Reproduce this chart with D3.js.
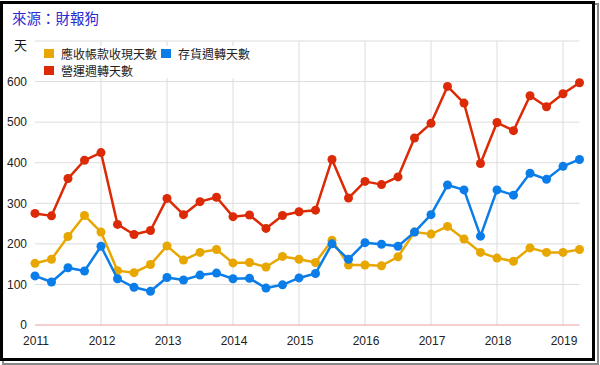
<!doctype html>
<html lang='zh-Hant'>
<head>
<meta charset='UTF-8'>
<title>週轉天數</title>
<style>
  body { margin: 0; background: #fff; }
  svg { display: block; font-family: 'Liberation Sans', Arial, sans-serif; }
  .grid line { stroke: #dcdcdc; stroke-width: 1px; }
  .tick-label { font-size: 12px; fill: #222; }
  .legend text { font-size: 12px; fill: #222; font-family: 'Noto Sans CJK TC', sans-serif; }
</style>
</head>
<body>
<script src='https://cdn.jsdelivr.net/npm/d3@7'></script>
<script>
  // 季度（2011Q1 ~ 2019Q2）
  const quarters = [
    '2011Q1','2011Q2','2011Q3','2011Q4','2012Q1','2012Q2','2012Q3','2012Q4',
    '2013Q1','2013Q2','2013Q3','2013Q4','2014Q1','2014Q2','2014Q3','2014Q4',
    '2015Q1','2015Q2','2015Q3','2015Q4','2016Q1','2016Q2','2016Q3','2016Q4',
    '2017Q1','2017Q2','2017Q3','2017Q4','2018Q1','2018Q2','2018Q3','2018Q4',
    '2019Q1','2019Q2'
  ]
  const receivableDays = [152,162,218,270,229,134,129,149,195,160,179,186,153,154,143,169,162,154,209,148,148,146,168,229,224,243,212,179,165,157,190,179,179,186]
  const inventoryDays  = [121,106,141,133,194,114,93,83,117,111,123,128,114,115,91,99,116,127,200,162,203,199,194,229,272,345,333,219,333,320,374,359,391,408]
  const operatingDays  = [275,269,361,406,425,248,223,233,312,272,304,315,267,271,238,270,279,283,408,313,354,346,365,461,497,588,547,398,499,479,565,538,570,597]

  const yearTicks = [2011,2012,2013,2014,2015,2016,2017,2018,2019]
  const valueTicks = [0,100,200,300,400,500,600]

  const seriesNames = ['應收帳款收現天數','存貨週轉天數','營運週轉天數']
  const seriesColors = ['#e8a600','#0a7de8','#dc2a06']
  const seriesValues = [receivableDays, inventoryDays, operatingDays]

  const W = 600, H = 365
  const toTime = q => +q.slice(0, 4) + (+q.slice(5) - 1) / 4

  const x = d3.scaleLinear().domain([2011, 2019.25]).range([35, 579.5])
  const y = d3.scaleLinear().domain([0, 700]).range([325, 41])

  const svg = d3.select('body').append('svg')
    .attr('width', W).attr('height', H)

  // 外框
  svg.append('rect')
    .attr('x', 3).attr('y', 4).attr('width', W - 5).attr('height', H - 5)
    .attr('fill', 'none').attr('stroke', '#888').attr('stroke-width', 2)
  svg.append('rect')
    .attr('x', 1.5).attr('y', 2.5).attr('width', 592).attr('height', 357)
    .attr('fill', '#fff').attr('stroke', '#000').attr('stroke-width', 3)

  // 格線
  const grid = svg.append('g').attr('class', 'grid')
  grid.selectAll('.h').data(valueTicks.slice(1).concat([700])).join('line')
    .attr('x1', x(2011)).attr('x2', x(2019.25))
    .attr('y1', d => y(d)).attr('y2', d => y(d))
  grid.selectAll('.v').data(yearTicks.slice(1)).join('line')
    .attr('x1', d => x(d)).attr('x2', d => x(d))
    .attr('y1', y(700)).attr('y2', y(0))
  svg.append('line')
    .attr('x1', x(2011)).attr('x2', x(2019.25))
    .attr('y1', y(0)).attr('y2', y(0))
    .attr('stroke', '#eaa0a0').attr('stroke-width', 1)

  // 軸標籤
  svg.selectAll('.ylab').data(valueTicks).join('text')
    .attr('class', 'tick-label')
    .attr('x', 27).attr('y', d => y(d)).attr('dy', '0.36em')
    .attr('text-anchor', 'end')
    .text(d => d)
  svg.selectAll('.xlab').data(yearTicks).join('text')
    .attr('class', 'tick-label')
    .attr('x', d => x(d) + 1).attr('y', 345)
    .attr('text-anchor', 'middle')
    .text(d => d)

  // 折線
  const line = d3.line()
    .x((d, i) => x(toTime(quarters[i])))
    .y(d => y(d))

  seriesValues.forEach((vals, k) => {
    const g = svg.append('g')
    g.append('path')
      .datum(vals)
      .attr('d', line)
      .attr('fill', 'none')
      .attr('stroke', seriesColors[k])
      .attr('stroke-width', 2.5)
      .attr('stroke-linejoin', 'round')
    g.selectAll('circle').data(vals).join('circle')
      .attr('cx', (d, i) => x(toTime(quarters[i])))
      .attr('cy', d => y(d))
      .attr('r', 4.5)
      .attr('fill', seriesColors[k])
  })

  // 標題
  svg.append('text')
    .attr('x', 12).attr('y', 24)
    .attr('font-size', 14.5)
    .attr('font-family', 'Noto Sans CJK TC, sans-serif')
    .attr('fill', '#2a2ad0')
    .text('來源：財報狗')
  svg.append('text')
    .attr('x', 14).attr('y', 50)
    .attr('font-size', 13)
    .attr('font-family', 'Noto Sans CJK TC, sans-serif')
    .attr('fill', '#111')
    .text('天')

  // 圖例
  const legend = svg.append('g').attr('class', 'legend')
  legend.append('rect')
    .attr('x', 40).attr('y', 46).attr('width', 212).attr('height', 32)
    .attr('fill', '#fff')
  const legendPos = [[44, 49], [161, 49], [44, 66]]
  seriesNames.forEach((name, k) => {
    legend.append('rect')
      .attr('x', legendPos[k][0]).attr('y', legendPos[k][1])
      .attr('width', 10).attr('height', 9)
      .attr('fill', seriesColors[k])
    legend.append('text')
      .attr('x', legendPos[k][0] + 17).attr('y', legendPos[k][1] + 9.5)
      .text(name)
  })
</script>
</body>
</html>
